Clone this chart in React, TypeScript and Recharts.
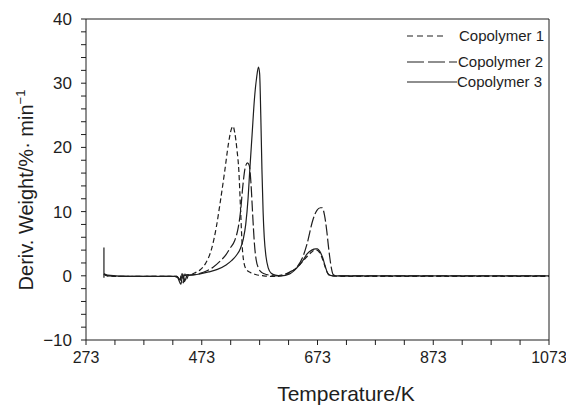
import React from 'react';
import { LineChart, Line, XAxis, YAxis, ReferenceLine } from 'recharts';

// Temperature (K) and derivative weight (%/min) per copolymer
const c1T = [304, 310, 330, 360, 400, 425, 432, 435, 438, 441, 444, 447, 450, 455, 462, 470, 480, 490, 498, 505, 513, 519, 524, 527, 530, 534, 537, 540, 543, 546, 550, 557, 566, 580, 600, 615, 625, 635, 645, 655, 663, 668, 672, 676, 680, 684, 688, 692, 697, 720, 800, 900, 1000, 1073];
const c1V = [0.3, 0.0, -0.1, -0.1, -0.1, -0.1, -0.3, -0.9, 0.4, -1.1, 0.3, -0.5, 0.1, 0.2, 0.5, 0.9, 2.0, 4.2, 7.5, 11.5, 16.5, 20.5, 22.8, 23.3, 22.3, 19.5, 16.5, 10.5, 4.5, 2.0, 1.0, 0.5, 0.2, 0.0, -0.1, 0.1, 0.5, 1.1, 2.0, 3.0, 3.7, 4.0, 4.0, 3.7, 3.0, 2.0, 0.9, 0.2, 0.0, -0.1, -0.1, -0.1, -0.1, -0.1];

const c2T = [304, 310, 350, 400, 430, 436, 440, 443, 447, 452, 460, 470, 480, 492, 505, 515, 522, 530, 536, 540, 544, 548, 552, 555, 558, 561, 564, 567, 571, 577, 585, 600, 615, 625, 637, 647, 655, 665, 672, 678, 681, 685, 689, 692, 694, 697, 700, 705, 800, 900, 1073];
const c2V = [0.2, 0.0, -0.1, -0.1, -0.1, -0.6, 0.3, -0.9, 0.2, 0.1, 0.2, 0.4, 0.7, 1.3, 2.3, 3.3, 4.3, 5.5, 7.5, 10.0, 14.0, 16.8, 17.6, 17.2, 14.5, 9.5, 5.0, 2.5, 1.2, 0.5, 0.2, 0.0, 0.2, 0.6, 1.3, 2.8, 5.0, 8.7, 10.2, 10.6, 10.6, 9.5, 7.0, 4.5, 3.0, 1.2, 0.2, 0.0, 0.0, 0.0, 0.0];

const c3T = [304, 310, 350, 400, 430, 437, 440, 444, 448, 455, 470, 485, 500, 515, 525, 533, 540, 545, 549, 553, 556, 560, 564, 568, 571, 573, 575, 577, 579, 581, 584, 588, 593, 600, 610, 625, 637, 647, 655, 663, 670, 673, 677, 682, 686, 690, 694, 700, 800, 900, 1073];
const c3V = [0.3, 0.1, -0.1, -0.1, -0.1, -1.3, 0.2, -0.7, 0.1, 0.1, 0.3, 0.6, 1.0, 1.7, 2.4, 3.2, 4.3, 5.8, 8.0, 12.0, 16.5, 22.0, 27.5, 31.0, 32.5, 31.5, 25.0, 16.5, 10.0, 6.0, 3.0, 1.2, 0.4, 0.1, 0.0, 0.3, 1.2, 2.3, 3.4, 4.0, 4.2, 4.2, 3.8, 2.8, 1.6, 0.5, 0.1, 0.0, 0.0, 0.0, 0.0];

// initial instrument spike
const spikeT = [304, 304];
const spikeV = [4.4, -0.3];

const seriesNames = ['Copolymer 1', 'Copolymer 2', 'Copolymer 3'];
const xTicks = [273, 323, 373, 423, 473, 523, 573, 623, 673, 723, 773, 823, 873, 923, 973, 1023, 1073];
const xLabelTicks = [273, 473, 673, 873, 1073];
const yTicks = [-10, -8, -6, -4, -2, 0, 2, 4, 6, 8, 10, 12, 14, 16, 18, 20, 22, 24, 26, 28, 30, 32, 34, 36, 38, 40];
const yLabelTicks = [-10, 0, 10, 20, 30, 40];

const toPts = (t: number[], v: number[]) => t.map((T, i) => ({ T, v: v[i] }));
const d1 = toPts(c1T, c1V);
const d2 = toPts(c2T, c2V);
const d3 = toPts(c3T, c3V);
const dSpike = toPts(spikeT, spikeV);

const FONT = '"Liberation Sans", Arial, Helvetica, sans-serif';
const INK = '#1e1e1e';
const dashes = ['5 3', '11 3', undefined];

const LegendBox = () => {
  const rows = [
    { y: 14, x2: 47, tx: 59 },
    { y: 40, x2: 57, tx: 58 },
    { y: 60, x2: 57, tx: 57 },
  ];
  return (
    <svg width={160} height={75} style={{ display: 'block' }}>
      {rows.map((r, i) => (
        <g key={i}>
          <line x1={7} x2={r.x2} y1={r.y} y2={r.y} stroke={INK} strokeWidth={1.2} strokeDasharray={i === 0 ? '6 4' : i === 1 ? '17 4' : undefined} />
          <text x={r.tx} y={r.y + 5} fontFamily={FONT} fontSize={15} fill={INK}>{seriesNames[i]}</text>
        </g>
      ))}
    </svg>
  );
};

const YTitle = () => (
  <text x={33} y={190} transform="rotate(-90, 33, 190)" textAnchor="middle" fontFamily={FONT} fontSize={20} fill={INK}>
    Deriv. Weight/%· min<tspan dy={-8} fontSize={13}>−1</tspan>
  </text>
);

const XTitle = () => (
  <text x={346} y={401} textAnchor="middle" fontFamily={FONT} fontSize={21} fill={INK}>Temperature/K</text>
);

export default function App() {
  return (
    <div style={{ position: 'absolute', left: 0, top: 0, width: 566, height: 406, background: '#fff' }}>
      <LineChart width={566} height={406} margin={{ top: 19, right: 17, bottom: 0, left: 0 }}>
        <XAxis
          dataKey="T"
          type="number"
          domain={[273, 1073]}
          ticks={xTicks}
          interval={0}
          allowDataOverflow
          height={66}
          tickSize={5}
          tickMargin={7}
          stroke={INK}
          tick={{ fill: INK, fontSize: 16, fontFamily: FONT }}
          tickFormatter={(t: number) => (xLabelTicks.includes(t) ? String(t) : '')}
          label={{ content: () => <XTitle /> }}
        />
        <YAxis
          type="number"
          domain={[-10, 40]}
          ticks={yTicks}
          interval={0}
          allowDataOverflow
          width={86}
          tickSize={5}
          tickMargin={9}
          stroke={INK}
          tick={{ fill: INK, fontSize: 17, fontFamily: FONT }}
          tickFormatter={(t: number) => (yLabelTicks.includes(t) ? (t < 0 ? '−' + Math.abs(t) : String(t)) : '')}
          label={{ content: () => <YTitle /> }}
        />
        <ReferenceLine y={40} stroke={INK} strokeWidth={1} />
        <ReferenceLine x={1073} stroke={INK} strokeWidth={1} />
        <Line data={d1} dataKey="v" name={seriesNames[0]} type="monotone" stroke={INK} strokeWidth={1.2} strokeDasharray={dashes[0]} dot={false} isAnimationActive={false} />
        <Line data={d2} dataKey="v" name={seriesNames[1]} type="monotone" stroke={INK} strokeWidth={1.2} strokeDasharray={dashes[1]} dot={false} isAnimationActive={false} />
        <Line data={d3} dataKey="v" name={seriesNames[2]} type="monotone" stroke={INK} strokeWidth={1.2} dot={false} isAnimationActive={false} />
        <Line data={dSpike} dataKey="v" name="spike" type="linear" stroke={INK} strokeWidth={1.2} dot={false} legendType="none" isAnimationActive={false} />
      </LineChart>
      <div style={{ position: 'absolute', left: 400, top: 22 }}>
        <LegendBox />
      </div>
    </div>
  );
}
